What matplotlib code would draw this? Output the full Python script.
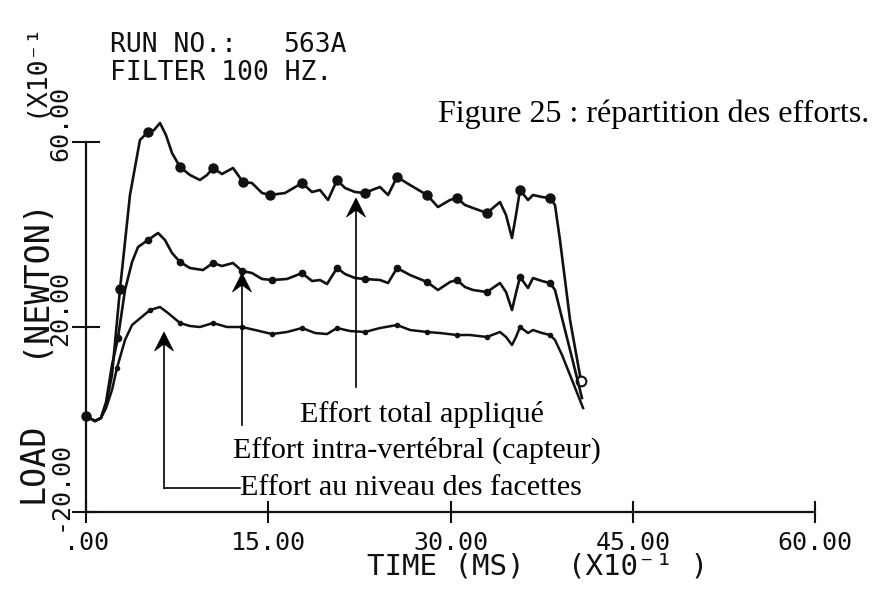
import matplotlib
matplotlib.use("Agg")
import matplotlib.pyplot as plt
from matplotlib.patches import Polygon
from matplotlib.transforms import ScaledTranslation, IdentityTransform

# ---------------- data (time in ms x10^-1, load in N x10^-1) ----------------
total_t = [0.00, 0.74, 1.23, 1.65, 2.14, 2.80, 3.62, 4.44, 5.10, 5.60, 6.09, 6.58, 7.08, 7.74,
           8.56, 9.38, 9.96, 10.45, 11.19, 12.10, 12.92, 13.66, 14.49, 15.14, 16.38, 17.78,
           18.60, 19.26, 19.92, 20.66, 21.32, 22.14, 22.96, 23.54, 24.20, 24.86, 25.60, 26.67,
           28.07, 28.97, 29.96, 30.53, 31.19, 31.85, 33.00, 34.07, 34.57, 35.06, 35.39, 35.72,
           36.38, 36.79, 37.53, 38.19, 38.60, 39.01, 39.84, 40.74]
total_load = [0.75, -0.33, 0.32, 3.13, 9.62, 28.21, 48.54, 60.43, 62.16, 62.59, 64.11, 61.51, 57.62,
              54.59, 52.86, 51.78, 52.86, 54.38, 53.08, 54.38, 51.35, 51.13, 48.97, 48.54, 48.97,
              51.13, 49.19, 49.62, 47.46, 51.78, 50.05, 49.19, 48.97, 49.62, 50.27, 48.54, 52.43,
              50.70, 48.54, 45.94, 47.46, 47.89, 46.38, 45.73, 44.65, 47.02, 44.21, 39.24, 44.21,
              49.62, 47.46, 48.54, 48.11, 47.89, 46.38, 38.81, 21.51, 8.32]
total_marks = [0, 5, 8, 13, 17, 20, 23, 25, 29, 32, 36, 38, 41, 44, 49, 53]

intra_t = [0.00, 0.74, 1.23, 1.65, 2.14, 2.63, 3.21, 3.79, 4.28, 5.10, 5.93, 6.50, 7.08, 7.74,
           8.56, 9.63, 10.45, 11.19, 12.10, 12.84, 13.66, 14.49, 15.31, 16.54, 17.78, 18.60,
           19.26, 19.84, 20.66, 21.32, 22.14, 22.96, 24.20, 24.86, 25.60, 26.67, 28.07, 28.97,
           29.96, 30.53, 31.19, 31.85, 33.00, 34.07, 34.57, 35.06, 35.39, 35.72, 36.38, 36.79,
           37.53, 38.19, 38.60, 39.01, 39.84, 40.82]
intra_load = [0.75, -0.33, 0.32, 3.78, 11.78, 17.62, 28.00, 34.05, 37.29, 38.81, 40.32, 38.81, 36.00,
              34.05, 32.75, 32.32, 33.84, 33.19, 33.84, 32.11, 31.67, 30.38, 30.16, 30.38, 31.67,
              29.94, 30.16, 29.29, 32.75, 31.46, 30.59, 30.38, 30.16, 29.51, 32.75, 31.24, 29.73,
              28.00, 29.73, 30.16, 28.65, 28.00, 27.56, 29.51, 27.56, 23.67, 27.35, 30.81, 28.43,
              30.59, 29.94, 29.51, 28.00, 23.67, 15.02, 4.65]
intra_marks = [5, 9, 13, 16, 19, 22, 24, 28, 31, 34, 36, 39, 42, 47, 51]

facet_t = [0.00, 0.74, 1.23, 1.65, 2.14, 2.55, 3.21, 3.79, 4.28, 5.27, 6.09, 6.75, 7.74, 8.56,
           9.38, 10.45, 11.60, 12.84, 13.91, 15.31, 16.54, 17.78, 18.85, 19.84, 20.66, 21.73,
           22.96, 24.20, 25.60, 26.67, 28.07, 29.14, 30.53, 31.60, 33.00, 34.07, 34.57, 35.06,
           35.39, 35.72, 36.38, 36.79, 37.53, 38.19, 38.60, 39.18, 40.00, 40.91]
facet_load = [0.75, -0.33, 0.32, 2.48, 6.38, 11.13, 17.19, 20.43, 21.51, 23.67, 24.32, 23.02, 20.86,
              20.21, 20.00, 20.86, 20.00, 20.00, 19.35, 18.48, 18.92, 19.78, 18.70, 18.48, 19.78,
              19.13, 18.92, 19.78, 20.43, 19.35, 18.92, 18.70, 18.27, 18.27, 17.84, 18.92, 17.84,
              16.11, 17.84, 20.00, 18.70, 19.35, 18.70, 18.27, 17.19, 13.94, 8.54, 2.48]
facet_marks = [5, 9, 12, 15, 17, 19, 21, 24, 26, 28, 30, 32, 34, 39, 43]

x_ticks = [0, 15, 30, 45, 60]
x_tick_labels = [".00", "15.00", "30.00", "45.00", "60.00"]
y_ticks = [-20, 20, 60]
y_tick_labels = ["-20.00", "20.00", "60.00"]

# ---------------- layout ----------------
W, H = 875, 590
MONO = "DejaVu Sans Mono"
SERIF = "Liberation Serif"
INK = "#111111"

fig = plt.figure(figsize=(W / 100, H / 100), dpi=100)
fig.patch.set_facecolor("white")


def fx(px):
    return px / W


def fy(py):
    return 1 - py / H


ax = fig.add_axes([fx(86), fy(512), (815 - 86) / W, (512 - 142) / H])
ax.set_xlim(0, 60)
ax.set_ylim(-20, 60)
for s in ("top", "right"):
    ax.spines[s].set_visible(False)
for s in ("left", "bottom"):
    ax.spines[s].set_linewidth(1.6)
    ax.spines[s].set_color(INK)

ax.set_xticks(x_ticks)
ax.set_xticklabels(x_tick_labels, fontfamily=MONO, fontsize=18, color=INK)
ax.tick_params(axis="x", direction="inout", length=16, width=1.5, pad=6, colors=INK)
ax.set_yticks(y_ticks)
ax.set_yticklabels(y_tick_labels, fontfamily=MONO, fontsize=18, color=INK)
ax.tick_params(axis="y", direction="inout", length=20, width=1.5, pad=3.6, colors=INK)
shift = ScaledTranslation(0, -19 / 100, fig.dpi_scale_trans)
for lab in ax.get_yticklabels():
    lab.set_rotation(90)
    lab.set_rotation_mode("anchor")
    lab.set_ha("left")
    lab.set_va("baseline")
    lab.set_transform(lab.get_transform() + shift)

# curves
ax.plot(total_t, total_load, color=INK, lw=1.9, marker="o", ms=6.5, markevery=total_marks,
        solid_joinstyle="round", clip_on=False)
ax.plot(total_t[-1], total_load[-1], marker="o", ms=7, mfc="white", mec=INK, mew=1.5, ls="none",
        clip_on=False)
ax.plot(intra_t, intra_load, color=INK, lw=1.9, marker="o", ms=4.5, markevery=intra_marks,
        solid_joinstyle="round", clip_on=False)
ax.plot(facet_t, facet_load, color=INK, lw=1.8, marker="o", ms=3, markevery=facet_marks,
        solid_joinstyle="round", clip_on=False)


# annotation arrows (data coordinates)
def v_arrow(x, y_from, y_tip):
    tip = ax.transData.transform((x, y_tip))
    base = ax.transData.transform((x, y_from))
    fig.add_artist(plt.Line2D([base[0], tip[0]], [base[1], tip[1] - 10], color="black", lw=1.2,
                              transform=IdentityTransform()))
    tx, ty = tip
    head = Polygon([(tx, ty), (tx - 9.5, ty - 19), (tx, ty - 12), (tx + 9.5, ty - 19)],
                   closed=True, facecolor="black", edgecolor="black", lw=0.5,
                   transform=IdentityTransform())
    fig.add_artist(head)


v_arrow(22.22, 7.03, 47.89)
v_arrow(12.84, -1.19, 31.68)
v_arrow(6.42, -14.81, 18.92)
ax.plot([6.42, 12.67], [-14.81, -14.81], color="black", lw=1.2)

# serif annotation texts
fig.text(fx(300), fy(422), "Effort total appliqué", fontfamily=SERIF, fontsize=21.7,
         ha="left", va="baseline", color="black")
fig.text(fx(233), fy(458), "Effort intra-vertébral (capteur)", fontfamily=SERIF, fontsize=21.7,
         ha="left", va="baseline", color="black")
fig.text(fx(240), fy(495), "Effort au niveau des facettes", fontfamily=SERIF, fontsize=21.7,
         ha="left", va="baseline", color="black")
fig.text(fx(438), fy(122), "Figure 25 : répartition des efforts.", fontfamily=SERIF,
         fontsize=23, ha="left", va="baseline", color="black")

# plotter header texts
fig.text(fx(110), fy(52), "RUN NO.:", fontfamily=MONO, fontsize=19, ha="left",
         va="baseline", color=INK)
fig.text(fx(283), fy(52), "563A", fontfamily=MONO, fontsize=19, ha="left",
         va="baseline", color=INK)
fig.text(fx(110), fy(80), "FILTER 100 HZ.", fontfamily=MONO, fontsize=19, ha="left",
         va="baseline", color=INK)

# axis titles
fig.text(fx(367), fy(575), "TIME (MS)", fontfamily=MONO, fontsize=21, ha="left",
         va="baseline", color=INK)
fig.text(fx(568), fy(575), "(X10\u207b\u00b9 )", fontfamily=MONO, fontsize=21, ha="left",
         va="baseline", color=INK)
for txt, start, size in (("LOAD", 503, 24), ("(NEWTON)", 357, 24), ("(X10\u207b\u00b9", 117, 19)):
    fig.text(fx(43), fy(start), txt, fontfamily=MONO, fontsize=size, rotation=90,
             rotation_mode="anchor", ha="left", va="baseline", color=INK)

fig.savefig("out.png", dpi=100, facecolor="white")
